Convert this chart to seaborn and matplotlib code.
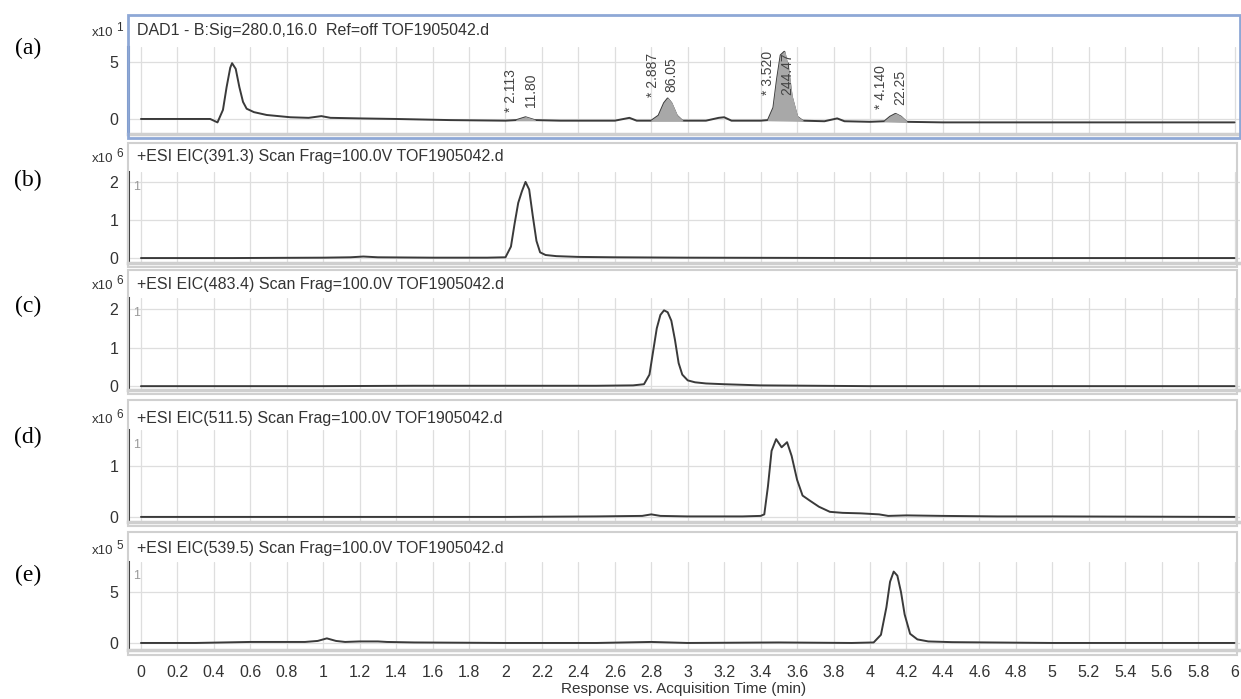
import numpy as np
import matplotlib
matplotlib.use("Agg")
import matplotlib.pyplot as plt
from matplotlib.patches import Rectangle
import seaborn as sns

sns.set_style('white')
plt.rcParams['font.family'] = ['Liberation Sans', 'DejaVu Sans']

# ---- data ----
# (a) DAD1 280 nm, x10^1
a_time = [0.00, 0.20, 0.38, 0.42, 0.45, 0.47, 0.49, 0.50, 0.52, 0.54,
          0.56, 0.58, 0.62, 0.69, 0.82, 0.92, 0.99, 1.04, 1.20, 1.40,
          1.70, 2.00, 2.06, 2.11, 2.16, 2.30, 2.60, 2.68, 2.72, 2.80,
          2.84, 2.87, 2.89, 2.91, 2.94, 2.97, 3.10, 3.17, 3.20, 3.24,
          3.40, 3.44, 3.47, 3.49, 3.51, 3.53, 3.55, 3.57, 3.60, 3.63,
          3.75, 3.82, 3.86, 4.00, 4.08, 4.11, 4.14, 4.17, 4.20, 4.40,
          5.00, 5.50, 6.00]
a_resp = [0.0, 0.0, 0.0, -0.3, 0.8, 2.8, 4.5, 4.9, 4.4, 2.8,
          1.5, 0.9, 0.6, 0.35, 0.15, 0.1, 0.25, 0.1, 0.05, 0.0,
          -0.1, -0.15, -0.1, 0.15, -0.1, -0.15, -0.15, 0.1, -0.15, -0.15,
          0.3, 1.4, 1.8, 1.4, 0.3, -0.15, -0.15, 0.1, 0.15, -0.15,
          -0.15, -0.1, 1.0, 3.5, 5.6, 5.9, 4.5, 2.0, 0.2, -0.15,
          -0.2, 0.05, -0.2, -0.25, -0.2, 0.2, 0.45, 0.2, -0.25, -0.3,
          -0.3, -0.3, -0.3]

# integrated peaks in (a)
peak_rt = ["2.113", "2.887", "3.520", "4.140"]
peak_area = ["11.80", "86.05", "244.47", "22.25"]
peak_start = [2.06, 2.80, 3.44, 4.08]
peak_end = [2.16, 2.97, 3.63, 4.20]
peak_label_y = [2.5, 3.9, 4.0, 2.8]

# (b) EIC 391.3, x10^6
b_time = [0.0, 0.5, 1.0, 1.15, 1.22, 1.3, 1.6, 1.9,
          2.00, 2.03, 2.05, 2.07, 2.09, 2.11, 2.13, 2.15, 2.17, 2.19,
          2.22, 2.28, 2.40, 2.60, 3.0, 4.0, 5.0, 6.0]
b_resp = [0.0, 0.0, 0.01, 0.02, 0.04, 0.02, 0.01, 0.01,
          0.02, 0.3, 0.9, 1.45, 1.75, 2.0, 1.8, 1.1, 0.45, 0.15,
          0.08, 0.05, 0.03, 0.02, 0.01, 0.0, 0.0, 0.0]

# (c) EIC 483.4, x10^6
c_time = [0.0, 0.5, 1.0, 1.5, 2.0, 2.5,
          2.70, 2.76, 2.79, 2.81, 2.83, 2.85, 2.87, 2.89, 2.91, 2.93, 2.95, 2.97,
          3.00, 3.04, 3.10, 3.20, 3.40, 4.0, 5.0, 6.0]
c_resp = [0.0, 0.0, 0.0, 0.01, 0.01, 0.01,
          0.02, 0.05, 0.3, 0.9, 1.5, 1.85, 1.97, 1.92, 1.7, 1.2, 0.6, 0.3,
          0.15, 0.1, 0.07, 0.05, 0.02, 0.0, 0.0, 0.0]

# (d) EIC 511.5, x10^6
d_time = [0.0, 0.5, 1.0, 1.5, 2.0, 2.5,
          2.75, 2.80, 2.85, 3.0, 3.3,
          3.40, 3.42, 3.44, 3.46, 3.485, 3.515, 3.545, 3.57, 3.60, 3.63,
          3.67, 3.72, 3.78, 3.85, 3.95, 4.05, 4.10, 4.20, 4.40, 4.70, 5.0, 6.0]
d_resp = [0.0, 0.0, 0.0, 0.0, 0.0, 0.01,
          0.02, 0.05, 0.02, 0.01, 0.01,
          0.02, 0.05, 0.6, 1.3, 1.53, 1.37, 1.47, 1.2, 0.73, 0.42,
          0.32, 0.2, 0.1, 0.08, 0.07, 0.05, 0.02, 0.03, 0.02, 0.01, 0.01, 0.0]

# (e) EIC 539.5, x10^5
e_time = [0.0, 0.3, 0.6, 0.9, 0.97, 1.02, 1.07, 1.12,
          1.2, 1.3, 1.35, 1.5, 2.0, 2.5, 2.8, 3.0, 3.5, 3.9,
          4.02, 4.06, 4.09, 4.11, 4.13, 4.15, 4.17, 4.19, 4.22, 4.26, 4.32, 4.45,
          5.0, 6.0]
e_resp = [0.0, 0.0, 0.1, 0.1, 0.2, 0.45, 0.2, 0.1,
          0.15, 0.15, 0.1, 0.05, 0.0, 0.0, 0.1, 0.0, 0.05, 0.0,
          0.05, 0.8, 3.5, 6.0, 7.0, 6.6, 5.0, 2.8, 0.9, 0.35, 0.15, 0.08,
          0.0, 0.0]

titles = ["DAD1 - B:Sig=280.0,16.0  Ref=off TOF1905042.d",
          "+ESI EIC(391.3) Scan Frag=100.0V TOF1905042.d",
          "+ESI EIC(483.4) Scan Frag=100.0V TOF1905042.d",
          "+ESI EIC(511.5) Scan Frag=100.0V TOF1905042.d",
          "+ESI EIC(539.5) Scan Frag=100.0V TOF1905042.d"]
letters = ["(a)", "(b)", "(c)", "(d)", "(e)"]
exponents = ["1", "6", "6", "6", "5"]
yticks = [[0, 5], [0, 1, 2], [0, 1, 2], [0, 1], [0, 5]]
ylims = [(-1.32, 6.32), (-0.13, 2.26), (-0.10, 2.29), (-0.10, 1.71), (-0.69, 7.94)]
traces = [(a_time, a_resp), (b_time, b_resp), (c_time, c_resp),
          (d_time, d_resp), (e_time, e_resp)]

# layout in pixels of the 1241x699 picture
W, H = 1241, 699
frame_px = [(15, 138), (143, 267), (270, 394), (400, 526), (532, 655)]
axes_px = [(47, 134), (172, 263), (298, 390), (430, 522), (562, 650)]
title_y = [31, 157, 284, 418, 549]
letter_y = [48, 180, 306, 437, 575]
ax_left, ax_right = 128, 1240

fig = plt.figure(figsize=(W / 100, H / 100), dpi=100)


def fx(px):
    return px / W


def fy(py):
    return 1 - py / H


xt = np.round(np.arange(0, 6.001, 0.2), 1)
line_col = '#3a3a3a'

for i in range(5):
    top, bot = axes_px[i]
    ax = fig.add_axes([fx(ax_left), fy(bot), fx(ax_right) - fx(ax_left), (bot - top) / H])
    t, r = traces[i]
    sns.lineplot(x=t, y=r, ax=ax, color=line_col, linewidth=1.4, sort=False)
    ax.set_xlim(-0.071, 6.03)
    ax.set_ylim(*ylims[i])
    ax.set_xticks(xt)
    ax.set_yticks(yticks[i])
    ax.set_yticklabels([str(v) for v in yticks[i]], fontsize=11.5, color='#333333')
    ax.grid(True, color='#dedede', linewidth=0.9)
    ax.set_axisbelow(True)
    for s in ['top', 'right']:
        ax.spines[s].set_visible(False)
    ax.spines['bottom'].set_color('#cfcfcf')
    ax.spines['bottom'].set_linewidth(2.5)
    ax.spines['left'].set_color('#2f4f8f' if i == 0 else '#3c3c3c')
    ax.spines['left'].set_linewidth(2.2)
    ax.tick_params(axis='y', direction='out', length=5, width=1, color='#555555', pad=2)
    ax.set_xlabel('')
    ax.set_ylabel('')
    if i < 4:
        ax.tick_params(axis='x', length=0, labelbottom=False)
    else:
        ax.set_xticklabels([f"{v:g}" for v in xt], fontsize=11.5, color='#333333')
        ax.tick_params(axis='x', direction='out', length=4, width=1, color='#555555', pad=7)
        ax.set_xlabel("Response vs. Acquisition Time (min)", fontsize=11,
                      color='#333333', labelpad=1)

    if i == 0:
        # integrated peak areas and labels
        ta = np.array(a_time)
        ra = np.array(a_resp)
        for k in range(len(peak_rt)):
            m = (ta >= peak_start[k]) & (ta <= peak_end[k])
            xs, ys = ta[m], ra[m]
            base = np.interp(xs, [xs[0], xs[-1]], [ys[0], ys[-1]])
            ax.fill_between(xs, base, ys, color='#a8a8a8', zorder=2)
            rt = float(peak_rt[k])
            ax.text(rt - 0.08, peak_label_y[k], "* " + peak_rt[k], rotation=90,
                    ha='center', va='center', fontsize=10, color='#444444')
            ax.text(rt + 0.025, peak_label_y[k], peak_area[k], rotation=90,
                    ha='center', va='center', fontsize=10, color='#444444')
    else:
        ax.text(0.005, 0.84, "1", transform=ax.transAxes, fontsize=9,
                color='#999999', ha='left', va='center')

    # panel frame
    ftop, fbot = frame_px[i]
    if i == 0:
        fig.patches.append(Rectangle((fx(ax_left), fy(fbot)), fx(1240) - fx(ax_left),
                                     (fbot - ftop) / H, transform=fig.transFigure,
                                     fill=False, edgecolor='#8ea8d6', linewidth=2))
    else:
        fig.patches.append(Rectangle((fx(ax_left), fy(fbot)), fx(1237) - fx(ax_left),
                                     (fbot - ftop) / H, transform=fig.transFigure,
                                     fill=False, edgecolor='#d0d0d0', linewidth=1.5))

    # header text, exponent and panel letter
    fig.text(fx(137), fy(title_y[i]), titles[i], fontsize=11.5, color='#333333',
             ha='left', va='center')
    fig.text(fx(113), fy(title_y[i] + 2), "x10", fontsize=9.5, color='#333333',
             ha='right', va='center')
    fig.text(fx(116), fy(title_y[i] - 3), exponents[i], fontsize=8.5, color='#333333',
             ha='left', va='center')
    fig.text(fx(28), fy(letter_y[i]), letters[i], fontsize=17, color='black',
             ha='center', va='center', family=['Liberation Serif', 'DejaVu Serif'])

fig.savefig("out.png", dpi=100)
